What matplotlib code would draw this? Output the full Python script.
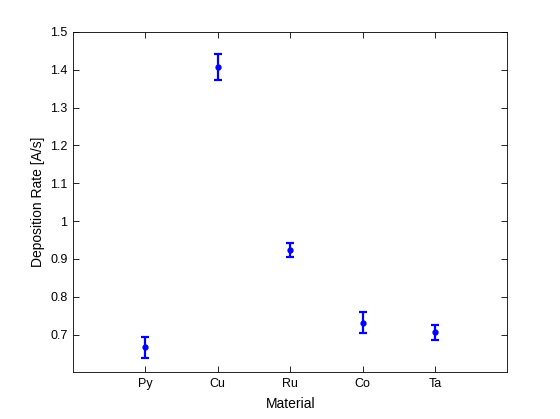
import matplotlib
matplotlib.use("Agg")
import matplotlib.pyplot as plt

materials = ["Py", "Cu", "Ru", "Co", "Ta"]
rates = [0.667, 1.407, 0.924, 0.732, 0.706]
errors = [0.028, 0.034, 0.018, 0.028, 0.019]
yticks = [0.7, 0.8, 0.9, 1, 1.1, 1.2, 1.3, 1.4, 1.5]
ytick_labels = ["0.7", "0.8", "0.9", "1", "1.1", "1.2", "1.3", "1.4", "1.5"]

plt.rcParams['font.family'] = ['Liberation Sans', 'DejaVu Sans']
fig = plt.figure(figsize=(5.6, 4.19), dpi=100)
ax = fig.add_axes([0.1304, 0.111, 0.906 - 0.1304, 0.924 - 0.111])

x = list(range(1, len(materials) + 1))
ax.errorbar(x, rates, yerr=errors, fmt='o', color=(0, 0, 1), ecolor=(0, 0, 1),
            markersize=3.5, elinewidth=1.6, capsize=2.6, capthick=1.6)

ax.set_xlim(0, 6)
ax.set_ylim(0.6, 1.5)
ax.set_xticks(x)
ax.set_xticklabels(materials)
ax.set_yticks(yticks)
ax.set_yticklabels(ytick_labels)
ax.tick_params(direction='in', length=4, width=0.6, labelsize=9,
               top=True, right=True, pad=4)
for s in ax.spines.values():
    s.set_linewidth(0.6)
ax.set_xlabel("Material", fontsize=10, labelpad=5)
ax.set_ylabel("Deposition Rate [A/s]", fontsize=10, labelpad=4)

fig.savefig("out.png", dpi=100)
